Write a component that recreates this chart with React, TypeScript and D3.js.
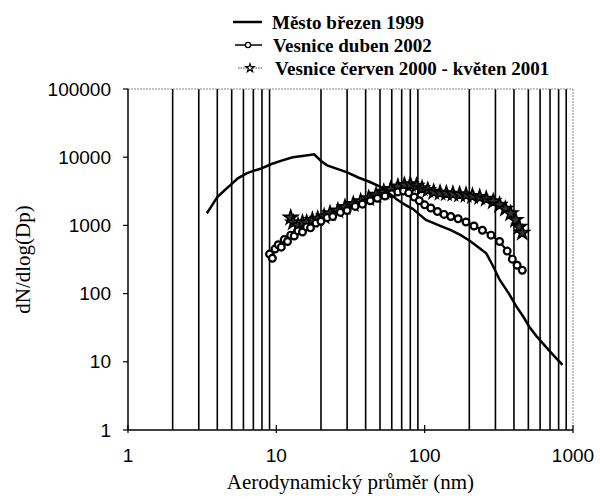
import React from 'react'
import * as d3 from 'd3'

// Město březen 1999 [průměr nm, dN/dlog(Dp)]
const mesto: [number, number][] = [
  [3.4, 1500], [3.7, 2000], [4, 2600], [4.5, 3300], [4.9, 3900], [5.5, 4900],
  [6.3, 5800], [7, 6300], [7.7, 6700], [8.5, 7300], [9.5, 8100], [11, 9000],
  [12.9, 10000], [15, 10400], [18, 11000], [20, 8800], [22, 7600], [26, 6700],
  [30, 6000], [36, 5000], [42, 4400], [50, 3700], [57, 3000], [65, 2400],
  [74, 2000], [83, 1750], [92, 1450], [102, 1200], [115, 1080], [125, 1000],
  [150, 850], [175, 720], [200, 600], [230, 480], [260, 390], [290, 250],
  [320, 160], [370, 100], [415, 65], [465, 45], [510, 32], [565, 24],
  [650, 17], [750, 12], [850, 9],
]

// Vesnice duben 2002
const duben: [number, number][] = [
  [9, 380], [9.4, 330], [9.8, 450], [10.3, 520], [10.8, 480], [11.3, 620],
  [11.9, 580], [12.5, 720], [13.2, 700], [14, 830], [15, 800], [16, 950],
  [17, 920], [18.5, 1080], [20, 1150], [22, 1300], [24, 1350], [27, 1550],
  [30, 1650], [34, 1900], [38, 2050], [43, 2300], [48, 2500], [54, 2700],
  [60, 2900], [66, 3100], [72, 3200], [78, 3000], [85, 2600], [92, 2300],
  [100, 2000], [110, 1800], [122, 1600], [135, 1450], [150, 1350], [168, 1250],
  [190, 1120], [215, 980], [245, 850], [280, 720], [320, 580], [360, 420],
  [390, 320], [420, 260], [455, 220],
]

// Vesnice červen 2000 - květen 2001
const cerven: [number, number][] = [
  [12.5, 1300], [13, 1100], [14, 1000], [15, 1100], [16, 1100], [17.5, 1200],
  [19, 1250], [21, 1350], [23, 1500], [26, 1650], [29, 1850], [33, 2050],
  [37, 2250], [42, 2500], [47, 2800], [53, 3100], [59, 3400], [66, 3700],
  [73, 3900], [80, 4000], [88, 3800], [96, 3500], [105, 3300], [115, 3100],
  [127, 3000], [140, 2950], [155, 2900], [172, 2850], [190, 2800], [210, 2700],
  [235, 2600], [260, 2450], [290, 2250], [320, 2000], [350, 1750], [380, 1500],
  [410, 1200], [435, 950], [455, 780],
]

const xTicks = [1, 10, 100, 1000]
const yTicks = [1, 10, 100, 1000, 10000, 100000]
const gridMult = [2, 3, 4, 5, 6, 7, 8, 9]
const legendNames = ['Město březen 1999', 'Vesnice duben 2002', 'Vesnice červen 2000 - květen 2001']

const W = 600
const H = 499
const left = 128
const right = 573
const top = 89
const bottom = 430

export default function App() {
  const x = d3.scaleLog().domain([1, 1000]).range([left, right])
  const y = d3.scaleLog().domain([1, 100000]).range([bottom, top])
  const line = d3.line<[number, number]>().x(d => x(d[0])).y(d => y(d[1]))

  const grid: number[] = []
  ;[1, 10, 100].forEach(dec => gridMult.forEach(m => grid.push(dec * m)))

  const star = d3.symbol().type(d3.symbolStar).size(60)()
  const sans = 'Liberation Sans'
  const serif = 'Liberation Serif'

  return (
    <svg width={W} height={H} style={{ position: 'absolute', left: 0, top: 0, background: '#fff' }}>
      {/* grid */}
      {grid.map(g => (
        <line key={g} x1={x(g)} x2={x(g)} y1={top} y2={bottom} stroke="#000" strokeWidth={1.6} />
      ))}
      <line x1={left} x2={right} y1={top} y2={top} stroke="#888" strokeDasharray="2,1" />
      <line x1={right} x2={right} y1={top} y2={bottom} stroke="#888" strokeDasharray="2,1" />

      {/* axes */}
      <line x1={left} x2={left} y1={top} y2={bottom} stroke="#000" strokeWidth={1.5} />
      <line x1={left} x2={right} y1={bottom} y2={bottom} stroke="#000" strokeWidth={1.5} />
      {yTicks.map(t => (
        <g key={t}>
          <line x1={left - 5} x2={left} y1={y(t)} y2={y(t)} stroke="#000" strokeWidth={1.2} />
          <text x={left - 17} y={y(t)} dy="0.35em" textAnchor="end" style={{ fontFamily: sans, fontSize: 19 }}>{t}</text>
        </g>
      ))}
      {xTicks.map(t => (
        <g key={t}>
          <line x1={x(t)} x2={x(t)} y1={bottom - 5} y2={bottom + 3} stroke="#000" strokeWidth={1.2} />
          <text x={x(t)} y={462} textAnchor="middle" style={{ fontFamily: sans, fontSize: 19 }}>{t}</text>
        </g>
      ))}
      <text x={(left + right) / 2} y={489} textAnchor="middle" style={{ fontFamily: serif, fontSize: 21 }}>Aerodynamický průměr (nm)</text>
      <text transform={`translate(30,${(top + bottom) / 2}) rotate(-90)`} textAnchor="middle" style={{ fontFamily: serif, fontSize: 21 }}>dN/dlog(Dp)</text>

      {/* series */}
      <path d={line(cerven) || ''} fill="none" stroke="#444" strokeWidth={1.2} strokeDasharray="1.5,1" />
      {cerven.map((d, i) => (
        <path key={i} d={star || ''} transform={`translate(${x(d[0])},${y(d[1])})`} fill="#333" stroke="#000" strokeWidth={1.6} />
      ))}
      <path d={line(duben) || ''} fill="none" stroke="#000" strokeWidth={2} />
      {duben.map((d, i) => (
        <circle key={i} cx={x(d[0])} cy={y(d[1])} r={3.4} fill="#fff" stroke="#000" strokeWidth={2.2} />
      ))}
      <path d={line(mesto) || ''} fill="none" stroke="#000" strokeWidth={2.5} />

      {/* legend */}
      <g style={{ fontFamily: serif, fontWeight: 'bold', fontSize: 19 }}>
        <line x1={233} x2={262} y1={22} y2={22} stroke="#000" strokeWidth={2.5} />
        <text x={272} y={22} dy="0.35em">{legendNames[0]}</text>
        <line x1={235} x2={262} y1={45} y2={45} stroke="#000" strokeWidth={1.5} />
        <circle cx={248} cy={45} r={2.6} fill="#fff" stroke="#000" strokeWidth={1.3} />
        <text x={273} y={45} dy="0.35em">{legendNames[1]}</text>
        <line x1={238} x2={262} y1={68} y2={68} stroke="#444" strokeDasharray="1.5,1" />
        <path d={d3.symbol().type(d3.symbolStar).size(22)() || ''} transform="translate(250,68)" fill="#fff" stroke="#000" strokeWidth={1.2} />
        <text x={275} y={68} dy="0.35em">{legendNames[2]}</text>
      </g>
    </svg>
  )
}
